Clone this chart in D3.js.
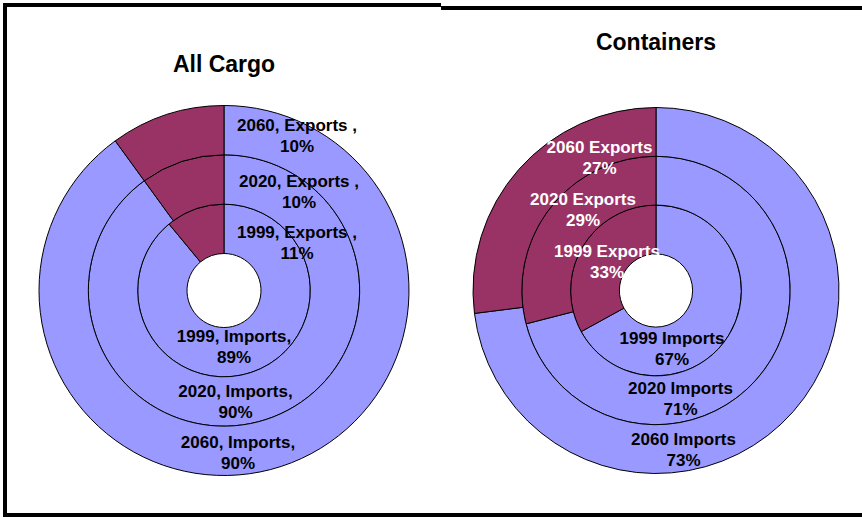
<!DOCTYPE html>
<html><head><meta charset="utf-8">
<script src="https://cdn.jsdelivr.net/npm/d3@7"></script>
<style>
html,body{margin:0;padding:0;background:#fff;}
svg{display:block;}
text{font-family:"Liberation Sans",Arial,Helvetica,sans-serif;font-weight:bold;}
</style></head><body>
<svg id="c" width="862" height="517"></svg>
<script>
// ---- data ----
const years = ["1999", "2020", "2060"];
const flows = ["Imports", "Exports"];
const cargoImports = [89, 90, 90];
const cargoExports = [11, 10, 10];
const containerImports = [67, 71, 73];
const containerExports = [33, 29, 27];
const chartTitles = ["All Cargo", "Containers"];

// ---- layout ----
const W = 862, H = 517;
const svg = d3.select("#c");
const colors = { Imports: "#9999FF", Exports: "#993366" };

const panels = [
  { title: chartTitles[0], imports: cargoImports, exports: cargoExports,
    cx: 224, cy: 290.5, R: 185, titleX: 224, titleY: 72, sep: ", ", sep2: { Imports: ",", Exports: " ," },
    exportColor: "#000",
    labelPos: { Imports: [[10, 51.5], [11.5, 106], [14, 157]], Exports: [[73, -53], [75, -104], [73, -159.5]] } },
  { title: chartTitles[1], imports: containerImports, exports: containerExports,
    cx: 656, cy: 290.5, R: 183, titleX: 656, titleY: 50, sep: " ", sep2: { Imports: "", Exports: "" },
    exportColor: "#fff",
    labelPos: { Imports: [[16, 53.5], [24.5, 103], [27.5, 154.5]], Exports: [[-49, -33.5], [-73, -86], [-56.5, -138]] } }
];

panels.forEach(p => {
  const g = svg.append("g").attr("transform", `translate(${p.cx},${p.cy})`);
  const hole = p.R * 0.2;
  const ringW = (p.R - hole) / years.length;
  const pie = d3.pie().sort(null).value(d => d.value);
  years.forEach((yr, i) => {
    const data = [
      { flow: "Imports", value: p.imports[i] },
      { flow: "Exports", value: p.exports[i] }
    ];
    const arc = d3.arc().innerRadius(hole + ringW * i).outerRadius(hole + ringW * (i + 1));
    g.selectAll(null).data(pie(data)).enter().append("path")
      .attr("d", arc)
      .attr("fill", d => colors[d.data.flow])
      .attr("stroke", "#000")
      .attr("stroke-width", 1);
  });
  // labels
  years.forEach((yr, i) => {
    flows.forEach(fl => {
      const val = fl === "Imports" ? p.imports[i] : p.exports[i];
      const pos = p.labelPos[fl][i];
      const t = g.append("text")
        .attr("text-anchor", "middle")
        .attr("font-size", 17)
        .attr("fill", fl === "Exports" ? p.exportColor : "#000");
      t.append("tspan").attr("x", pos[0]).attr("y", pos[1])
        .text(yr + p.sep + fl + p.sep2[fl]);
      t.append("tspan").attr("x", pos[0]).attr("y", pos[1] + 21)
        .text(val + "%");
    });
  });
  svg.append("text").attr("x", p.titleX).attr("y", p.titleY)
    .attr("text-anchor", "middle").attr("font-size", 23).attr("fill", "#000")
    .text(p.title);
});

// frame
const frame = svg.append("g").attr("stroke", "#000").attr("stroke-width", 4).attr("fill", "none");
frame.append("line").attr("x1", 5).attr("y1", 3).attr("x2", 5).attr("y2", 517);
frame.append("line").attr("x1", 3).attr("y1", 5).attr("x2", 441).attr("y2", 5);
frame.append("line").attr("x1", 441).attr("y1", 8).attr("x2", 862).attr("y2", 8);
frame.append("line").attr("x1", 3).attr("y1", 515).attr("x2", 862).attr("y2", 515);
</script>
</body></html>
